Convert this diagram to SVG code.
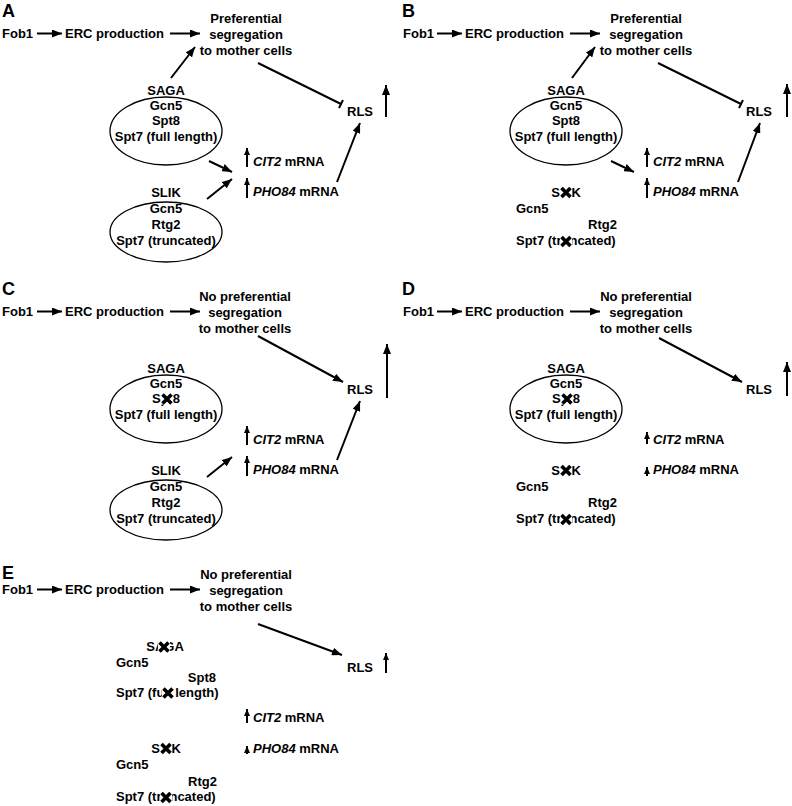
<svg xmlns="http://www.w3.org/2000/svg" xmlns:xlink="http://www.w3.org/1999/xlink" width="792" height="806" viewBox="0 0 792 806">
<style>
text{font-family:"Liberation Sans",Arial,sans-serif;font-weight:bold;font-size:13px;fill:#000}
.c{text-anchor:middle}
.e{text-anchor:end}
.lbl{font-size:18px}
.i{font-style:italic}
.ln{stroke:#000;stroke-width:2;fill:none}
.a{marker-end:url(#ah)}
.as{marker-end:url(#ahs)}
.el{fill:none;stroke:#000;stroke-width:1.3}
</style>
<defs>
<marker id="ah" viewBox="0 0 10 8" refX="10" refY="4" markerWidth="10" markerHeight="8" markerUnits="userSpaceOnUse" orient="auto"><path d="M0,0 L10,4 L0,8 z" fill="#000"/></marker>
<marker id="ahs" viewBox="0 0 7 6" refX="7" refY="3" markerWidth="7" markerHeight="6" markerUnits="userSpaceOnUse" orient="auto"><path d="M0,0 L7,3 L0,6 z" fill="#000"/></marker>
<g id="xm"><rect x="-6" y="-5.5" width="12" height="11" fill="#fff"/><path d="M-4.5,-4.5 L4.5,4.5 M4.5,-4.5 L-4.5,4.5" stroke="#000" stroke-width="3.6"/></g>
</defs>
<rect width="792" height="806" fill="#fff"/>

<!-- Panel A -->
<g id="panelA">
<g id="A-label"><text class="lbl" x="2" y="17">A</text></g>
<g id="A-fob1"><text x="2" y="38">Fob1</text></g>
<g id="A-erc"><text x="65" y="38">ERC production</text></g>
<g id="A-seg"><text class="c" x="246" y="23">Preferential</text><text class="c" x="246" y="39">segregation</text><text class="c" x="246" y="55">to mother cells</text></g>
<g id="A-rls"><text x="347" y="116">RLS</text><path class="ln a" d="M386,117 V85"/></g>
<g id="A-saga"><text class="c" x="166" y="95">SAGA</text><ellipse class="el" cx="166" cy="131" rx="56" ry="34"/><text class="c" x="166" y="110">Gcn5</text><text class="c" x="166" y="125">Spt8</text><text class="c" x="166" y="141">Spt7 (full length)</text></g>
<g id="A-slik"><text class="c" x="166" y="197">SLIK</text><ellipse class="el" cx="166" cy="232" rx="56" ry="30"/><text class="c" x="166" y="213">Gcn5</text><text class="c" x="166" y="229">Rtg2</text><text class="c" x="166" y="245">Spt7 (truncated)</text></g>
<g id="A-cit2"><path class="ln as" d="M247,167 V148"/><text x="253" y="166"><tspan class="i">CIT2</tspan> mRNA</text></g>
<g id="A-pho84"><path class="ln as" d="M247,198 V178"/><text x="253" y="196"><tspan class="i">PHO84</tspan> mRNA</text></g>
<g id="A-connectors">
<path class="ln a" d="M37,33.5 H62"/>
<path class="ln a" d="M170,33.5 H200"/>
<path class="ln a" d="M171,78 L195,47"/>
<path class="ln" d="M258,63 L341,104 M339,108 L343,100"/>
<path class="ln a" d="M209,161 L232,172"/>
<path class="ln a" d="M207,199 L232,179"/>
<path class="ln a" d="M337,182 L360,123"/>
</g>
</g>

<!-- Panel B -->
<g id="panelB" transform="translate(400,0)">
<g id="B-label"><text class="lbl" x="2" y="17">B</text></g>
<g id="B-fob1"><text x="3" y="38">Fob1</text></g>
<g id="B-erc"><text x="65" y="38">ERC production</text></g>
<g id="B-seg"><text class="c" x="246" y="23">Preferential</text><text class="c" x="246" y="39">segregation</text><text class="c" x="246" y="55">to mother cells</text></g>
<g id="B-rls"><text x="346" y="116">RLS</text><path class="ln a" d="M387,117 V84"/></g>
<g id="B-saga"><text class="c" x="166" y="95">SAGA</text><ellipse class="el" cx="166" cy="131" rx="56" ry="34"/><text class="c" x="166" y="110">Gcn5</text><text class="c" x="166" y="125">Spt8</text><text class="c" x="166" y="141">Spt7 (full length)</text></g>
<g id="B-slik"><text class="c" x="166" y="197">SLIK</text><use xlink:href="#xm" x="166" y="192.5"/><text x="116" y="213">Gcn5</text><text class="e" x="217" y="229">Rtg2</text><text x="116" y="245">Spt7 (truncated)</text><use xlink:href="#xm" x="166" y="241.5"/></g>
<g id="B-cit2"><path class="ln as" d="M247,167 V148"/><text x="253" y="166"><tspan class="i">CIT2</tspan> mRNA</text></g>
<g id="B-pho84"><path class="ln as" d="M247,198 V178"/><text x="253" y="196"><tspan class="i">PHO84</tspan> mRNA</text></g>
<g id="B-connectors">
<path class="ln a" d="M37,33.5 H62"/>
<path class="ln a" d="M170,33.5 H200"/>
<path class="ln a" d="M172,78 L195,47"/>
<path class="ln" d="M258,63 L341,104 M339,108 L343,100"/>
<path class="ln a" d="M211,161 L234,172"/>
<path class="ln a" d="M338,182 L360,123"/>
</g>
</g>

<!-- Panel C -->
<g id="panelC" transform="translate(0,278)">
<g id="C-label"><text class="lbl" x="2" y="17">C</text></g>
<g id="C-fob1"><text x="2" y="38">Fob1</text></g>
<g id="C-erc"><text x="65" y="38">ERC production</text></g>
<g id="C-seg"><text class="c" x="245" y="23">No preferential</text><text class="c" x="245" y="39">segregation</text><text class="c" x="245" y="55">to mother cells</text></g>
<g id="C-rls"><text x="347" y="116">RLS</text><path class="ln a" d="M387,120 V66"/></g>
<g id="C-saga"><text class="c" x="166" y="95">SAGA</text><ellipse class="el" cx="166" cy="131" rx="56" ry="34"/><text class="c" x="166" y="110">Gcn5</text><text class="c" x="166" y="125">Spt8</text><use xlink:href="#xm" x="167" y="121"/><text class="c" x="166" y="141">Spt7 (full length)</text></g>
<g id="C-slik"><text class="c" x="166" y="197">SLIK</text><ellipse class="el" cx="166" cy="232" rx="56" ry="30"/><text class="c" x="166" y="213">Gcn5</text><text class="c" x="166" y="229">Rtg2</text><text class="c" x="166" y="245">Spt7 (truncated)</text></g>
<g id="C-cit2"><path class="ln as" d="M247,167 V148"/><text x="253" y="166"><tspan class="i">CIT2</tspan> mRNA</text></g>
<g id="C-pho84"><path class="ln as" d="M247,198 V178"/><text x="253" y="196"><tspan class="i">PHO84</tspan> mRNA</text></g>
<g id="C-connectors">
<path class="ln a" d="M37,33.5 H62"/>
<path class="ln a" d="M170,33.5 H200"/>
<path class="ln a" d="M258,58 L343,104"/>
<path class="ln a" d="M207,199 L232,179"/>
<path class="ln a" d="M337,182 L360,123"/>
</g>
</g>

<!-- Panel D -->
<g id="panelD" transform="translate(400,278)">
<g id="D-label"><text class="lbl" x="2" y="17">D</text></g>
<g id="D-fob1"><text x="3" y="38">Fob1</text></g>
<g id="D-erc"><text x="65" y="38">ERC production</text></g>
<g id="D-seg"><text class="c" x="246" y="23">No preferential</text><text class="c" x="246" y="39">segregation</text><text class="c" x="246" y="55">to mother cells</text></g>
<g id="D-rls"><text x="346" y="116">RLS</text><path class="ln a" d="M387,118 V84"/></g>
<g id="D-saga"><text class="c" x="166" y="95">SAGA</text><ellipse class="el" cx="166" cy="131" rx="56" ry="34"/><text class="c" x="166" y="110">Gcn5</text><text class="c" x="166" y="125">Spt8</text><use xlink:href="#xm" x="167" y="121"/><text class="c" x="166" y="141">Spt7 (full length)</text></g>
<g id="D-slik"><text class="c" x="166" y="197">SLIK</text><use xlink:href="#xm" x="166" y="192.5"/><text x="116" y="213">Gcn5</text><text class="e" x="217" y="229">Rtg2</text><text x="116" y="245">Spt7 (truncated)</text><use xlink:href="#xm" x="166" y="241.5"/></g>
<g id="D-cit2"><path class="ln as" d="M247,166 V154"/><text x="253" y="166"><tspan class="i">CIT2</tspan> mRNA</text></g>
<g id="D-pho84"><path class="ln as" d="M247,198 V189"/><text x="253" y="196"><tspan class="i">PHO84</tspan> mRNA</text></g>
<g id="D-connectors">
<path class="ln a" d="M37,33.5 H62"/>
<path class="ln a" d="M170,33.5 H200"/>
<path class="ln a" d="M259,60 L342,104"/>
</g>
</g>

<!-- Panel E -->
<g id="panelE" transform="translate(0,556)">
<g id="E-label"><text class="lbl" x="2" y="23">E</text></g>
<g id="E-fob1"><text x="2" y="38">Fob1</text></g>
<g id="E-erc"><text x="65" y="38">ERC production</text></g>
<g id="E-seg"><text class="c" x="246" y="23">No preferential</text><text class="c" x="246" y="39">segregation</text><text class="c" x="246" y="55">to mother cells</text></g>
<g id="E-rls"><text x="347" y="116">RLS</text><path class="ln as" d="M386,117 V97"/></g>
<g id="E-saga"><text class="c" x="165" y="95">SAGA</text><use xlink:href="#xm" x="164" y="91"/><text x="116" y="111">Gcn5</text><text class="e" x="216" y="126">Spt8</text><text x="116" y="141">Spt7 (full length)</text><use xlink:href="#xm" x="168" y="137"/></g>
<g id="E-slik"><text class="c" x="166" y="197">SLIK</text><use xlink:href="#xm" x="166" y="192.5"/><text x="116" y="213">Gcn5</text><text class="e" x="217" y="230">Rtg2</text><text x="116" y="245">Spt7 (truncated)</text><use xlink:href="#xm" x="166" y="241.5"/></g>
<g id="E-cit2"><path class="ln as" d="M247,167 V153"/><text x="253" y="166"><tspan class="i">CIT2</tspan> mRNA</text></g>
<g id="E-pho84"><path class="ln as" d="M247,198 V190"/><text x="253" y="197"><tspan class="i">PHO84</tspan> mRNA</text></g>
<g id="E-connectors">
<path class="ln a" d="M37,33.5 H62"/>
<path class="ln a" d="M170,33.5 H200"/>
<path class="ln a" d="M258,68 L342,99"/>
</g>
</g>
</svg>
